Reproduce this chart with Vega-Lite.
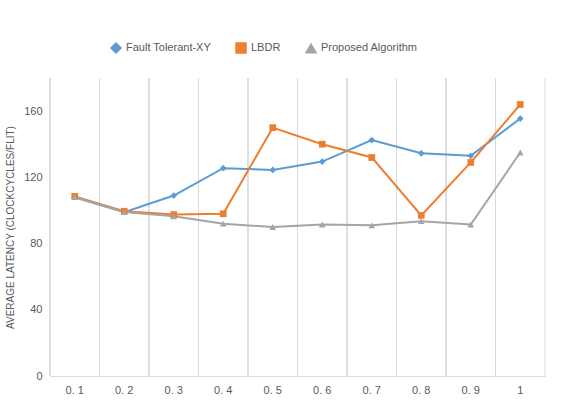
{
  "$schema": "https://vega.github.io/schema/vega-lite/v6.json",
  "width": 495,
  "height": 298,
  "padding": {"left": 5, "top": 42, "right": 12, "bottom": 5},
  "background": "white",
  "config": {
    "font": "Liberation Sans",
    "view": {"stroke": null},
    "axis": {"labelColor": "#595959", "titleColor": "#595959", "labelFontSize": 11, "titleFontSize": 10, "titleFontWeight": "normal", "gridColor": "#D9D9D9", "domainColor": "#D9D9D9", "ticks": false}
  },
  "data": {
    "values": [
      {"rate": "0. 1", "series": "Fault Tolerant-XY", "latency": 108},
      {"rate": "0. 2", "series": "Fault Tolerant-XY", "latency": 99},
      {"rate": "0. 3", "series": "Fault Tolerant-XY", "latency": 109},
      {"rate": "0. 4", "series": "Fault Tolerant-XY", "latency": 125.5},
      {"rate": "0. 5", "series": "Fault Tolerant-XY", "latency": 124.5},
      {"rate": "0. 6", "series": "Fault Tolerant-XY", "latency": 129.5},
      {"rate": "0. 7", "series": "Fault Tolerant-XY", "latency": 142.5},
      {"rate": "0. 8", "series": "Fault Tolerant-XY", "latency": 134.5},
      {"rate": "0. 9", "series": "Fault Tolerant-XY", "latency": 133},
      {"rate": "1", "series": "Fault Tolerant-XY", "latency": 155.5},
      {"rate": "0. 1", "series": "LBDR", "latency": 108.5},
      {"rate": "0. 2", "series": "LBDR", "latency": 99.5},
      {"rate": "0. 3", "series": "LBDR", "latency": 97.5},
      {"rate": "0. 4", "series": "LBDR", "latency": 98},
      {"rate": "0. 5", "series": "LBDR", "latency": 150},
      {"rate": "0. 6", "series": "LBDR", "latency": 140},
      {"rate": "0. 7", "series": "LBDR", "latency": 132},
      {"rate": "0. 8", "series": "LBDR", "latency": 97},
      {"rate": "0. 9", "series": "LBDR", "latency": 129},
      {"rate": "1", "series": "LBDR", "latency": 164},
      {"rate": "0. 1", "series": "Proposed Algorithm", "latency": 108},
      {"rate": "0. 2", "series": "Proposed Algorithm", "latency": 99},
      {"rate": "0. 3", "series": "Proposed Algorithm", "latency": 96.5},
      {"rate": "0. 4", "series": "Proposed Algorithm", "latency": 92},
      {"rate": "0. 5", "series": "Proposed Algorithm", "latency": 90},
      {"rate": "0. 6", "series": "Proposed Algorithm", "latency": 91.5},
      {"rate": "0. 7", "series": "Proposed Algorithm", "latency": 91},
      {"rate": "0. 8", "series": "Proposed Algorithm", "latency": 93.5},
      {"rate": "0. 9", "series": "Proposed Algorithm", "latency": 91.5},
      {"rate": "1", "series": "Proposed Algorithm", "latency": 135}
    ]
  },
  "encoding": {
    "x": {"field": "rate", "type": "ordinal", "title": "INJECTION RATE",
      "scale": {"paddingInner": 0, "paddingOuter": 0},
      "axis": {"labelAngle": 0, "grid": false, "titlePadding": 10, "labelPadding": 8}}
  },
  "layer": [
    {
      "mark": {"type": "rule", "color": "#D9D9D9", "strokeWidth": 1, "xOffset": -24.75},
      "encoding": {"y": {"datum": 0, "type": "quantitative"}, "y2": {"datum": 180}}
    },
    {
      "transform": [{"filter": "datum.rate == '1' && datum.series == 'LBDR'"}],
      "mark": {"type": "rule", "color": "#D9D9D9", "strokeWidth": 1, "xOffset": 24.75},
      "encoding": {"y": {"datum": 0, "type": "quantitative"}, "y2": {"datum": 180}}
    },
    {
      "mark": {"type": "line", "strokeWidth": 2, "point": {"size": 45, "filled": true, "opacity": 1}},
      "encoding": {
        "y": {"field": "latency", "type": "quantitative", "title": "AVERAGE LATENCY (CLOCKCYCLES/FLIT)",
          "scale": {"domain": [0, 180]},
          "axis": {"values": [0, 20, 40, 60, 80, 100, 120, 140, 160, 180], "grid": false, "domain": false, "labelPadding": 8, "titlePadding": 8}},
        "color": {"field": "series", "type": "nominal", "title": null,
          "scale": {"domain": ["Fault Tolerant-XY", "LBDR", "Proposed Algorithm"], "range": ["#5B9BD5", "#ED7D31", "#A5A5A5"]},
          "legend": {"orient": "none", "legendX": 60, "legendY": -36, "direction": "horizontal", "labelColor": "#595959", "labelFontSize": 11, "columnPadding": 22}},
        "shape": {"field": "series", "type": "nominal",
          "scale": {"domain": ["Fault Tolerant-XY", "LBDR", "Proposed Algorithm"], "range": ["diamond", "square", "triangle-up"]},
          "legend": null}
      }
    }
  ]
}
